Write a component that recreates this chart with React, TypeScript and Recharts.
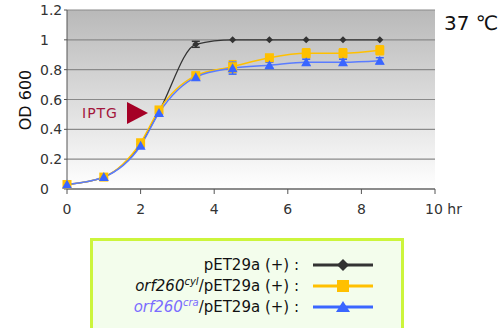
import { CartesianGrid, ComposedChart, ErrorBar, Line, XAxis, YAxis } from "recharts";

const hours = [0, 1, 2, 2.5, 3.5, 4.5, 5.5, 6.5, 7.5, 8.5];
const vector = [0.03, 0.08, 0.3, 0.52, 0.97, 1.0, 1.0, 1.0, 1.0, 1.0];
const vectorErr = [0, 0, 0, 0, 0.02, 0, 0, 0, 0, 0];
const cyl = [0.03, 0.08, 0.31, 0.53, 0.76, 0.82, 0.88, 0.91, 0.91, 0.93];
const cylErr = [0, 0, 0.01, 0.01, 0.02, 0.04, 0.02, 0.03, 0.03, 0.03];
const cra = [0.03, 0.08, 0.29, 0.51, 0.75, 0.81, 0.83, 0.85, 0.85, 0.86];
const craErr = [0, 0, 0.01, 0.01, 0.02, 0.04, 0.02, 0.02, 0.02, 0.02];
const xTicks = [0, 2, 4, 6, 8, 10];
const yTicks = [0, 0.2, 0.4, 0.6, 0.8, 1, 1.2];

const rows = hours.map((h, i) => ({
  h,
  vector: vector[i],
  vectorErr: vectorErr[i],
  cyl: cyl[i],
  cylErr: cylErr[i],
  cra: cra[i],
  craErr: craErr[i],
}));

const BLACK = "#333333";
const YELLOW = "#ffc000";
const BLUE = "#3a66ff";
const FONT = "'DejaVu Sans', sans-serif";

const diamond = (p: any) => (
  <path key={`d${p.index}`} d={`M${p.cx},${p.cy - 3.5}L${p.cx + 3.5},${p.cy}L${p.cx},${p.cy + 3.5}L${p.cx - 3.5},${p.cy}Z`} fill={BLACK} />
);
const square = (p: any) => <rect key={`s${p.index}`} x={p.cx - 4.5} y={p.cy - 4.5} width={9} height={9} fill={YELLOW} />;
const triangle = (p: any) => (
  <path key={`t${p.index}`} d={`M${p.cx},${p.cy - 5}L${p.cx + 5},${p.cy + 4}L${p.cx - 5},${p.cy + 4}Z`} fill={BLUE} />
);

const YTick = (p: any) => (
  <text x={40} y={p.y + 5} fontSize={14} fill="#333" fontFamily={FONT}>
    {p.payload.value}
  </text>
);
const XTick = (p: any) => {
  const v = p.payload.value;
  if (v === 10) {
    return (
      <text x={p.x - 10} y={p.y + 18} fontSize={14} fill="#333" fontFamily={FONT}>
        10 hr
      </text>
    );
  }
  return (
    <text x={p.x} y={p.y + 18} fontSize={14} fill="#333" textAnchor="middle" fontFamily={FONT}>
      {v}
    </text>
  );
};

const legendRow = { display: "flex", alignItems: "center", justifyContent: "flex-end", height: 21 } as const;

function Swatch({ color, shape }: { color: string; shape: string }) {
  return (
    <svg width={62} height={14} style={{ marginLeft: 14 }}>
      <line x1={0} y1={7} x2={60} y2={7} stroke={color} strokeWidth={3} />
      {shape === "d" && <path d="M30,1L36,7L30,13L24,7Z" fill={color} />}
      {shape === "s" && <rect x={24} y={1} width={12} height={12} fill={color} />}
      {shape === "t" && <path d="M30,1L37,12L23,12Z" fill={color} />}
    </svg>
  );
}

export default function App() {
  return (
    <div style={{ position: "absolute", left: 0, top: 0, width: 499, height: 328, background: "#fff", overflow: "hidden" }}>
      <ComposedChart width={499} height={230} data={rows} margin={{ top: 10, right: 64, bottom: 21, left: 0 }}>
        <defs>
          <linearGradient id="bg" x1="0" y1="0" x2="0" y2="1">
            <stop offset="0%" stopColor="#b9b9b9" />
            <stop offset="100%" stopColor="#ffffff" />
          </linearGradient>
        </defs>
        <CartesianGrid vertical={false} fill="url(#bg)" stroke="#8a8a8a" strokeWidth={1.2} />
        <XAxis
          dataKey="h"
          type="number"
          domain={[0, 10]}
          ticks={xTicks}
          tick={<XTick />}
          height={20}
          stroke="#555"
          tickSize={5}
        />
        <YAxis
          type="number"
          domain={[0, 1.2]}
          ticks={yTicks}
          tick={<YTick />}
          width={67}
          stroke="#555"
          tickSize={3}
        />
        <Line type="monotone" dataKey="vector" stroke={BLACK} strokeWidth={1.3} dot={diamond} isAnimationActive={false}>
          <ErrorBar dataKey="vectorErr" direction="y" width={4} stroke={BLACK} />
        </Line>
        <Line type="monotone" dataKey="cyl" stroke={YELLOW} strokeWidth={1.5} dot={square} isAnimationActive={false}>
          <ErrorBar dataKey="cylErr" direction="y" width={4} stroke={YELLOW} />
        </Line>
        <Line type="monotone" dataKey="cra" stroke="#5a7cff" strokeWidth={1.5} dot={triangle} isAnimationActive={false}>
          <ErrorBar dataKey="craErr" direction="y" width={4} stroke={BLUE} />
        </Line>
      </ComposedChart>

      <div
        style={{
          position: "absolute",
          left: 25,
          top: 100,
          transform: "translate(-50%, -50%) rotate(-90deg)",
          fontFamily: FONT,
          fontSize: 16,
          color: "#111",
          whiteSpace: "nowrap",
        }}
      >
        OD 600
      </div>
      <div style={{ position: "absolute", left: 444, top: 11, fontFamily: FONT, fontSize: 20, color: "#111", whiteSpace: "nowrap" }}>
        37 ℃
      </div>
      <div style={{ position: "absolute", left: 82, top: 105, fontFamily: FONT, fontSize: 14, color: "#a3163c", letterSpacing: 1 }}>
        IPTG
      </div>
      <svg style={{ position: "absolute", left: 127, top: 102 }} width={22} height={22}>
        <path d="M0,0L21,11L0,22Z" fill="#a50026" />
      </svg>

      <div
        style={{
          position: "absolute",
          left: 90,
          top: 238,
          width: 314,
          height: 110,
          border: "3px solid #ccf53c",
          background: "#f3fdec",
          fontFamily: FONT,
          fontSize: 15,
          color: "#111",
          boxSizing: "border-box",
          paddingTop: 13,
          paddingRight: 26,
        }}
      >
        <div style={legendRow}>
          <span>pET29a (+) :</span>
          <Swatch color={BLACK} shape="d" />
        </div>
        <div style={legendRow}>
          <span>
            <i>orf260</i>
            <sup style={{ fontSize: 10, fontStyle: "italic" }}>cyl</sup>/pET29a (+) :
          </span>
          <Swatch color={YELLOW} shape="s" />
        </div>
        <div style={legendRow}>
          <span>
            <i style={{ color: "#7a6cff" }}>orf260</i>
            <sup style={{ fontSize: 10, fontStyle: "italic", color: "#7a6cff" }}>cra</sup>/pET29a (+) :
          </span>
          <Swatch color={BLUE} shape="t" />
        </div>
      </div>
    </div>
  );
}
